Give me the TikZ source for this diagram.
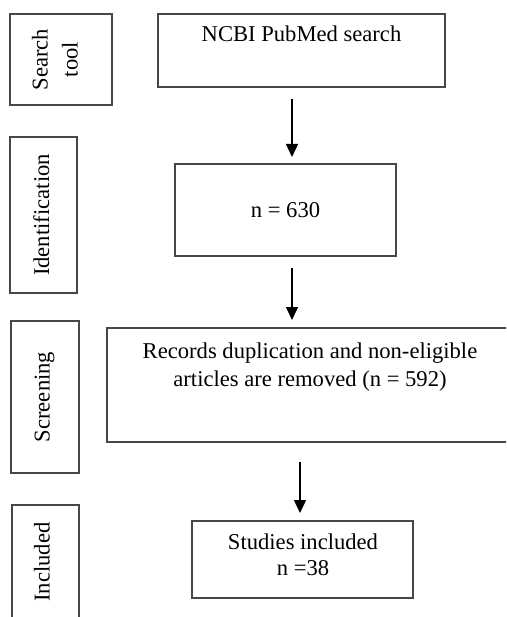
\documentclass[tikz,border=0pt]{standalone}
\usepackage{fontspec}
\setmainfont{Liberation Serif}
\usetikzlibrary{arrows.meta}
\begin{document}
\begin{tikzpicture}[x=1pt,y=-1pt,
  box/.style={draw=black!72,line width=1.2pt,rectangle,inner sep=0pt},
  lbl/.style={inner sep=0pt,font=\fontsize{22.6}{26}\selectfont,align=center},
  side/.style={lbl,rotate=90},
  flow/.style={-{Triangle[width=12pt,length=13pt]},line width=1.3pt,black}]
\useasboundingbox (0,0) rectangle (506,617);
\clip (0,0) rectangle (506,617);
% boxes
\node[box,minimum width=102pt,minimum height=91pt] (search) at (61,59.5) {};
\node[box,minimum width=287pt,minimum height=73pt] (ncbi) at (301.5,50.5) {};
\node[box,minimum width=67pt,minimum height=156pt] (ident) at (43.5,215) {};
\node[box,minimum width=221pt,minimum height=92pt] (n630) at (285.5,210) {};
\node[box,minimum width=68pt,minimum height=152pt] (screen) at (45,397) {};
\node[box,minimum width=405pt,minimum height=114pt] (records) at (309.5,385) {};
\node[box,minimum width=67pt,minimum height=120pt] (incl) at (45.5,565) {};
\node[box,minimum width=221pt,minimum height=77pt] (studies) at (302.5,559.5) {};
% texts
\node[side,font=\fontsize{22.6}{30}\selectfont] (tsearch) at (55,59.5) {Search\\tool};
\node[side,anchor=base] (tident) at (49,215) {Identification};
\node[side,anchor=base] (tscreen) at (49.5,397) {Screening};
\node[side,anchor=base] (tincl) at (49.5,562) {Included};
\node[lbl,anchor=base] (tncbi) at (301.5,42) {NCBI PubMed search};
\node[lbl,anchor=base] (tn630) at (285.5,218) {n = 630};
\node[lbl,font=\fontsize{22.6}{28}\selectfont] (trecords) at (310,367) {Records duplication and non-eligible\\articles are removed (n = 592)};
\node[lbl] (tstudies) at (303,555) {Studies included\\n =38};
% arrows
\coordinate (a1s) at (292,99);  \coordinate (a1e) at (292,157);
\coordinate (a2s) at (292,268); \coordinate (a2e) at (292,320);
\coordinate (a3s) at (300,462); \coordinate (a3e) at (300,513);
\draw[flow] (a1s) -- (a1e);
\draw[flow] (a2s) -- (a2e);
\draw[flow] (a3s) -- (a3e);
\end{tikzpicture}
\end{document}
